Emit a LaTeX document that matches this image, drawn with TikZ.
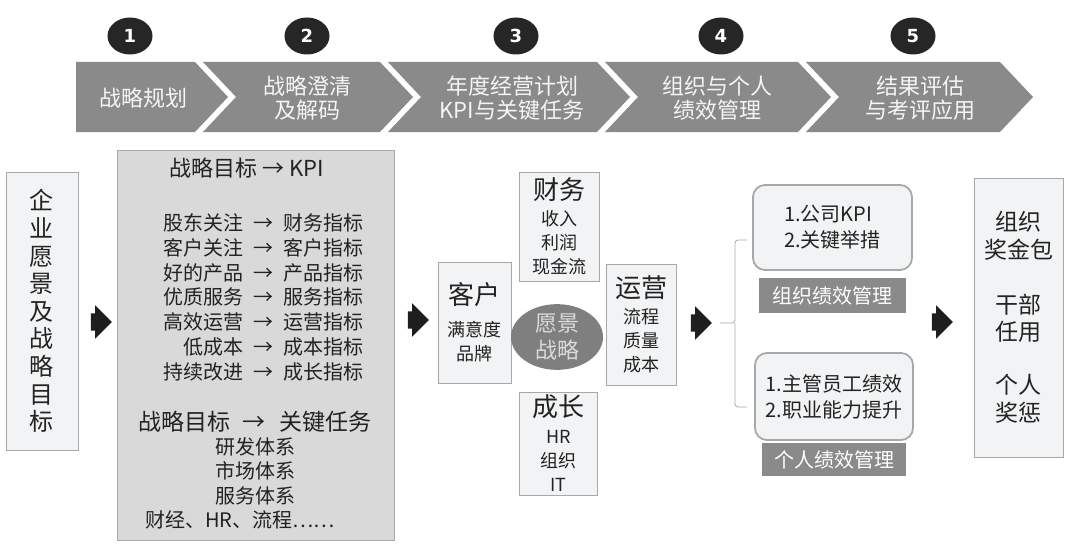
\documentclass[tikz,border=0pt]{standalone}
\usepackage{fontspec}
\newfontfamily\cjk{Noto Sans CJK SC}
\newfontfamily\numfont{DejaVu Sans}
\usetikzlibrary{shapes.geometric, shapes.arrows, positioning}

\definecolor{bandgray}{HTML}{8A8A8A}
\definecolor{inkgray}{HTML}{222222}
\definecolor{edgegray}{HTML}{A8A8A8}
\definecolor{paleFill}{HTML}{F2F3F4}
\definecolor{kpiFill}{HTML}{D9D9D9}
\definecolor{coreFill}{HTML}{7F7F7F}
\definecolor{dotblack}{HTML}{262626}
\definecolor{arrblack}{HTML}{1E1E1E}
\newcommand{\fsz}[2]{\fontsize{#1}{#2}\selectfont}

\begin{document}
\begin{tikzpicture}[x=1pt, y=-1pt,
  font=\cjk\fsz{20}{24}, text=inkgray,
  numdot/.style={ellipse, fill=dotblack, text=white, minimum width=45pt,
    minimum height=37pt, inner sep=0pt, font=\numfont\bfseries\fsz{18}{18}},
  band/.style={fill=bandgray},
  bandtext/.style={text=white!96!black, align=center, font=\cjk\fsz{22}{24}},
  panel/.style={draw=edgegray, fill=paleFill, line width=0.8pt, inner sep=0pt,
    align=center},
  kpipanel/.style={panel, fill=kpiFill},
  quad/.style={panel, font=\cjk\fsz{18}{24}},
  goalbox/.style={draw=edgegray, fill=paleFill, line width=1.8pt,
    rounded corners=12pt, align=left, font=\cjk\fsz{20}{26}},
  tagbox/.style={fill=bandgray, text=white, inner sep=0pt,
    font=\cjk\fsz{20}{20}},
  bigarr/.style={single arrow, fill=arrblack, inner xsep=0pt, inner ysep=8.5pt,
    minimum height=21pt, single arrow head extend=8pt}
]
\useasboundingbox (0,0) rectangle (1072,551);

% step numbers
\node[numdot] (n1) at (130,36) {1};
\node[numdot] (n2) at (307,36) {2};
\node[numdot] (n3) at (516,36) {3};
\node[numdot] (n4) at (721,36) {4};
\node[numdot] (n5) at (913,36) {5};

% chevron band
\fill[band] (76,62) -- (195,62) -- (228,97) -- (195,132) -- (76,132) -- cycle;
\fill[band] (203,62) -- (380,62) -- (413,97) -- (380,132) -- (203,132) -- (236,97) -- cycle;
\fill[band] (388,62) -- (597,62) -- (630,97) -- (597,132) -- (388,132) -- (421,97) -- cycle;
\fill[band] (605,62) -- (798,62) -- (831,97) -- (798,132) -- (605,132) -- (638,97) -- cycle;
\fill[band] (806,62) -- (1000,62) -- (1033,97) -- (1000,132) -- (806,132) -- (839,97) -- cycle;
\node[bandtext] (s1) at (143,98) {战略规划};
\node[bandtext] (s2) at (307,98) {战略澄清\\及解码};
\node[bandtext] (s3) at (512,98) {年度经营计划\\KPI与关键任务};
\node[bandtext] (s4) at (717,98) {组织与个人\\绩效管理};
\node[bandtext] (s5) at (920,98) {结果评估\\与考评应用};

% vision column
\node[panel, minimum width=72pt, minimum height=278pt, font=\cjk\fsz{24}{27.6}]
  (vision) at (42,311) {企\\业\\愿\\景\\及\\战\\略\\目\\标};

% strategy decoding
\node[kpipanel, minimum width=277pt, minimum height=390pt] (kpibox) at (256,345) {};
\node[font=\cjk\fsz{22}{24}] (kpihead) at (247,168) {战略目标 → KPI};
\node[font=\cjk\fsz{20}{24.7}] (kpilist) at (263,300) {%
  \setlength\tabcolsep{5pt}%
  \begin{tabular}{@{}r c l@{}}
  股东关注 & → & 财务指标\\
  客户关注 & → & 客户指标\\
  好的产品 & → & 产品指标\\
  优质服务 & → & 服务指标\\
  高效运营 & → & 运营指标\\
  低成本 & → & 成本指标\\
  持续改进 & → & 成长指标
  \end{tabular}};
\node[font=\cjk\fsz{23}{24}] (taskhead) at (255,422) {战略目标\hspace{0.5em}→\hspace{0.6em}关键任务};
\node[align=center, font=\cjk\fsz{20}{24.5}] (tasks) at (255,471) {研发体系\\市场体系\\服务体系};
\node (others) at (240,520) {财经、HR、流程……};

% balanced scorecard
\node[quad, minimum width=80pt, minimum height=109pt] (fin) at (559,226.5)
  {{\fsz{26}{26}财务}\\[2pt]收入\\利润\\现金流};
\node[quad, minimum width=73pt, minimum height=121pt] (cust) at (474.5,322.5)
  {{\fsz{26}{26}客户}\\[8pt]满意度\\品牌};
\node[quad, minimum width=70pt, minimum height=121pt] (ops) at (641.5,324.5)
  {{\fsz{26}{26}运营}\\[2pt]流程\\质量\\成本};
\node[quad, minimum width=78pt, minimum height=103pt] (grow) at (558.5,443.5)
  {{\fsz{26}{26}成长}\\[3pt]HR\\组织\\IT};
\node[ellipse, fill=coreFill, text=white!86!black, minimum width=92pt,
  minimum height=63pt, inner sep=0pt, align=center, font=\cjk\fsz{22}{27}]
  (core) at (557,337) {愿景\\战略};

% performance management
\node[goalbox, minimum width=159pt, minimum height=85pt] (orgkpi) at (832.5,227.5)
  {1.公司KPI\\2.关键举措};
\node[tagbox, minimum width=147pt, minimum height=35pt, below=7pt of orgkpi]
  (orgtag) {组织绩效管理};
\node[goalbox, minimum width=158pt, minimum height=87pt] (perkpi) at (834,396.5)
  {1.主管员工绩效\\2.职业能力提升};
\node[tagbox, minimum width=144pt, minimum height=33pt, below=2pt of perkpi]
  (pertag) {个人绩效管理};
\draw[edgegray, line width=0.8pt, rounded corners=3pt]
  (747,240) -- (735,240) -- (735,323) -- (720,323);
\draw[edgegray, line width=0.8pt, rounded corners=3pt]
  (735,323) -- (735,407) -- (747,407);

% application of results
\node[panel, minimum width=89pt, minimum height=279pt, font=\cjk\fsz{23}{27.5}]
  (reward) at (1018.5,317.5)
  {组织\\奖金包\\[27.5pt]干部\\任用\\[25.5pt]个人\\奖惩};

% block arrows
\node[bigarr] (a1) at (97,322) {};
\node[bigarr] (a2) at (414,320) {};
\node[bigarr] (a3) at (697,323) {};
\node[bigarr] (a4) at (938,322) {};
\end{tikzpicture}
\end{document}
